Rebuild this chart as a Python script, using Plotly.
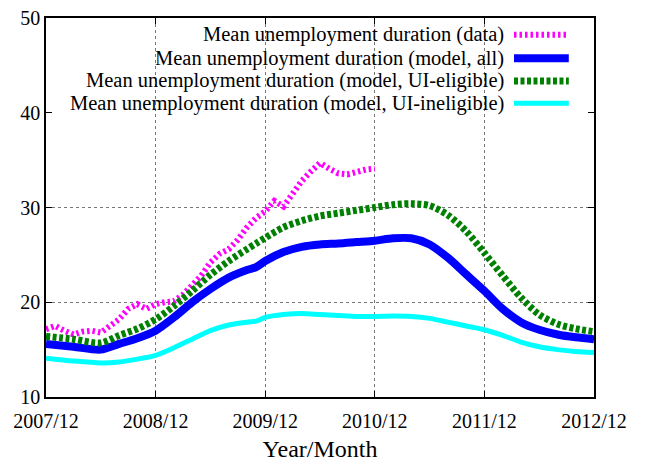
import plotly.graph_objects as go

# month index 0 = 2007/12
tick_months = [0, 12, 24, 36, 48, 60]
tick_labels = ["2007/12", "2008/12", "2009/12", "2010/12", "2011/12", "2012/12"]

data_months = list(range(0, 37))
data_mean = [17.15, 17.5, 17.0, 16.6, 16.9, 17.0, 16.8, 17.5, 18.2, 19.3, 19.8, 19.3,
             19.8, 20.0, 20.1, 20.8, 21.7, 22.8, 24.2, 25.1, 25.6, 26.6, 27.9, 28.9,
             29.6, 30.7, 30.1, 31.5, 32.8, 33.8, 34.7, 34.1, 33.6, 33.5, 33.8, 34.0, 34.1]

model_months = [0, 3, 6, 8, 10, 12, 14, 16, 18, 20, 22, 23, 24, 26, 28, 30, 32, 34,
                36, 38, 40, 42, 44, 46, 48, 50, 52, 54, 56, 58, 60]
model_all = [15.6, 15.3, 15.0, 15.6, 16.2, 17.0, 18.4, 20.0, 21.4, 22.6, 23.4, 23.7,
             24.35, 25.3, 25.85, 26.1, 26.2, 26.35, 26.5, 26.75, 26.75, 26.1, 24.7,
             22.95, 21.2, 19.3, 17.9, 17.1, 16.6, 16.3, 16.1]
model_elig = [16.4, 16.1, 15.7, 16.5, 17.2, 18.2, 19.6, 21.2, 22.9, 24.35, 25.6, 26.2,
              26.8, 27.9, 28.6, 29.1, 29.4, 29.7, 30.0, 30.3, 30.4, 30.2, 29.2, 27.5,
              25.2, 22.8, 20.5, 18.7, 17.7, 17.2, 16.9]
model_inelig = [14.1, 13.8, 13.6, 13.7, 14.0, 14.4, 15.2, 16.1, 17.0, 17.6, 17.9, 18.0,
                18.4, 18.7, 18.8, 18.7, 18.6, 18.5, 18.5, 18.55, 18.5, 18.3, 17.9, 17.5,
                17.1, 16.5, 15.8, 15.3, 15.0, 14.8, 14.7]

names = ["Mean unemployment duration (data)",
         "Mean unemployment duration (model, all)",
         "Mean unemployment duration (model, UI-eligible)",
         "Mean unemployment duration (model, UI-ineligible)"]
colors = ["#ff00ff", "#0000ff", "#008000", "#00ffff"]
widths = [6, 8, 7, 5]
dashes = ["2.5px,3px", "solid", "4px,2.5px", "solid"]

fig = go.Figure()
fig.add_trace(go.Scatter(x=data_months, y=data_mean, mode="lines", name=names[0],
                         line=dict(color=colors[0], width=widths[0], dash=dashes[0])))
for i, ys in enumerate([model_all, model_elig, model_inelig], start=1):
    fig.add_trace(go.Scatter(x=model_months, y=ys, mode="lines", name=names[i],
                             line=dict(color=colors[i], width=widths[i], dash=dashes[i],
                                       shape="spline", smoothing=0.8)))

# gnuplot-style key: right-aligned text, sample line on the right
key_y = [0.956, 0.894, 0.834, 0.775]
for i in range(4):
    fig.add_annotation(xref="paper", yref="paper", x=0.839, y=key_y[i], text=names[i],
                       showarrow=False, xanchor="right", yanchor="middle",
                       font=dict(family="Liberation Serif", size=20.5, color="black"))
    fig.add_shape(type="line", xref="paper", yref="paper", x0=0.854, x1=0.954,
                  y0=key_y[i], y1=key_y[i],
                  line=dict(color=colors[i], width=widths[i], dash=dashes[i]))

# page body adds an 8px offset, so the figure is 8px smaller on each side
fig.update_layout(
    width=639, height=456,
    margin=dict(l=38, r=53, t=10, b=67, autoexpand=False),
    paper_bgcolor="white", plot_bgcolor="white",
    showlegend=False,
    font=dict(family="Liberation Serif", size=20, color="black"),
    xaxis=dict(range=[0, 60], tickmode="array", tickvals=tick_months, ticktext=tick_labels,
               ticks="inside", ticklen=6, tickcolor="black", mirror="ticks",
               showline=True, linecolor="black", linewidth=1.5, automargin=False,
               ticklabelstandoff=5, ticklabeloverflow="allow",
               showgrid=True, gridcolor="#777777", griddash="dot", gridwidth=1,
               zeroline=False, title=dict(text="Year/Month", standoff=9)),
    yaxis=dict(range=[10, 50], tickmode="array", tickvals=[10, 20, 30, 40, 50],
               ticks="inside", ticklen=6, tickcolor="black", mirror="ticks",
               showline=True, linecolor="black", linewidth=1.5, automargin=False,
               ticklabeloverflow="allow",
               showgrid=False, zeroline=False,
               minor=dict(tickvals=[20, 30], showgrid=True, gridcolor="#777777",
                          griddash="dot", gridwidth=1, ticks="")),
)

fig.write_html("out.html")
